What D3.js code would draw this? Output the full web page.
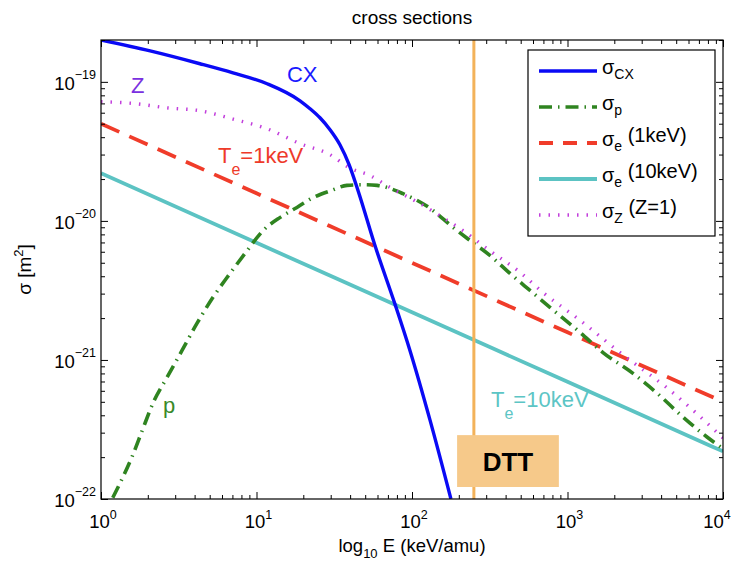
<!DOCTYPE html>
<html><head><meta charset="utf-8">
<script src="https://cdn.jsdelivr.net/npm/d3@7"></script>
<style>
body{margin:0;background:#fff}
svg{display:block;font-family:"Liberation Sans",Arial,Helvetica,sans-serif}
</style>
</head><body>
<svg id="chart" width="735" height="565"></svg>
<script>
// ---- data ----
const titleText = "cross sections";
const xTickValues = [1, 10, 100, 1000, 10000];
const xTickExp = ["0", "1", "2", "3", "4"];
const yTickValues = [1e-22, 1e-21, 1e-20, 1e-19];
const yTickExp = ["\u221222", "\u221221", "\u221220", "\u221219"];

const cxE = [1, 2.07, 4.33, 7.06, 11.7, 19.05, 22.1, 25.6, 29.7, 34.4, 39.4, 45.0, 57.8, 77.8, 97, 130.6, 178];
const cxS = [2.0e-19, 1.67e-19, 1.35e-19, 1.16e-19, 9.7e-20, 7.31e-20, 6.41e-20, 5.52e-20, 4.53e-20, 3.53e-20, 2.54e-20, 1.65e-20, 6.65e-21, 2.51e-21, 1.17e-21, 3.69e-22, 1.0e-22];

const pE = [1.19, 1.325, 1.58, 1.84, 2.16, 2.66, 3.32, 4.14, 5.25, 6.76, 8.69, 11.0, 14.2, 18.2, 23.1, 30, 38.2, 47.5, 59.6, 87.5, 131, 184, 226, 317, 427, 574, 771, 1203, 1691, 2637, 3765, 5530, 7890, 10000];
const pS = [1.02e-22, 1.30e-22, 2.0e-22, 3.1e-22, 4.9e-22, 7.5e-22, 1.17e-21, 1.83e-21, 2.82e-21, 4.19e-21, 6.1e-21, 8.5e-21, 1.06e-20, 1.25e-20, 1.47e-20, 1.65e-20, 1.8e-20, 1.82e-20, 1.8e-20, 1.57e-20, 1.23e-20, 8.97e-21, 7.5e-21, 5.65e-21, 4.19e-21, 3.16e-21, 2.39e-21, 1.58e-21, 1.13e-21, 8.0e-22, 5.77e-22, 3.88e-22, 2.79e-22, 2.3e-22];

const e1E = [1, 10, 100, 1000, 10000];
const e1S = [5.0e-20, 1.58e-20, 5.0e-21, 1.58e-21, 5.0e-22];

const e10E = [1, 10, 100, 1000, 10000];
const e10S = [2.2e-20, 6.96e-21, 2.2e-21, 6.96e-22, 2.2e-22];

const zE = [1, 1.61, 2.66, 4.33, 7.06, 11.7, 19, 29.6, 39.9, 53.7, 72.2, 113, 151, 204, 317, 495, 695, 1203, 2177, 4560, 10000];
const zS = [7.2e-20, 7.0e-20, 6.5e-20, 6.2e-20, 5.4e-20, 4.6e-20, 3.6e-20, 3.0e-20, 2.4e-20, 2.12e-20, 1.74e-20, 1.33e-20, 1.09e-20, 8.8e-21, 6.1e-21, 4.27e-21, 3.06e-21, 1.93e-21, 1.13e-21, 6.05e-22, 2.75e-22];

const dttE = 250;
const dttBoxE = [195, 880];
const dttBoxS = [1.22e-22, 2.88e-22];

// ---- layout ----
const svg = d3.select("#chart");
const m = {left: 101, top: 40};
const pw = 622, ph = 459;
const g = svg.append("g").attr("transform", `translate(${m.left},${m.top})`);

const x = d3.scaleLog().domain([1, 1e4]).range([0, pw]);
const y = d3.scaleLog().domain([1e-22, 2e-19]).range([ph, 0]);

const col = {
  CX: "#0a0af5", p: "#2f8420", e1: "#f03c2a", e10: "#5cc3c3", Z: "#c23fdc",
  orange: "#f3b25a", box: "#f6c98a"
};

svg.append("defs").append("clipPath").attr("id", "clip")
  .append("rect").attr("width", pw).attr("height", ph);

const lineGen = d3.line().x(d => x(d[0])).y(d => y(d[1])).curve(d3.curveMonotoneX);
const zip = (a, b) => a.map((v, i) => [v, b[i]]);

const curves = g.append("g").attr("clip-path", "url(#clip)");
const styles = [
  {key: "e10", data: zip(e10E, e10S), w: 3.8, dash: null},
  {key: "e1", data: zip(e1E, e1S), w: 3.8, dash: "20,11"},
  {key: "p", data: zip(pE, pS), w: 3.6, dash: "13,6,1.5,6"},
  {key: "Z", data: zip(zE, zS), w: 3.4, dash: "1.5,8"},
  {key: "CX", data: zip(cxE, cxS), w: 3.4, dash: null}
];
styles.forEach(s => {
  curves.append("path").datum(s.data)
    .attr("d", lineGen).attr("fill", "none")
    .attr("stroke", col[s.key]).attr("stroke-width", s.w)
    .attr("stroke-dasharray", s.dash);
});

// DTT marker
g.append("line").attr("x1", x(dttE)).attr("x2", x(dttE)).attr("y1", 0).attr("y2", ph)
  .attr("stroke", col.orange).attr("stroke-width", 3);
g.append("rect").attr("x", x(dttBoxE[0])).attr("y", y(dttBoxS[1]))
  .attr("width", x(dttBoxE[1]) - x(dttBoxE[0])).attr("height", y(dttBoxS[0]) - y(dttBoxS[1]))
  .attr("fill", col.box);
g.append("text").attr("x", (x(dttBoxE[0]) + x(dttBoxE[1])) / 2)
  .attr("y", (y(dttBoxS[0]) + y(dttBoxS[1])) / 2 + 10)
  .attr("text-anchor", "middle").attr("font-size", 26).attr("font-weight", "bold")
  .attr("fill", "#000").text("DTT");

// curve annotations (positions in data coordinates)
const notes = [
  {t: "CX", E: 15.7, S: 9.9e-20, c: "#1a1aff"},
  {t: "Z", E: 1.56, S: 8.36e-20, c: "#7a30e0"},
  {t: "p", E: 2.5, S: 4.14e-22, c: "#3a8a2a"},
  {t: "T|e|=1keV", E: 5.65, S: 2.62e-20, c: "#ee3a2a"},
  {t: "T|e|=10keV", E: 322, S: 4.57e-22, c: "#5cc5c5"}
];
notes.forEach(n => {
  const t = g.append("text").attr("x", x(n.E)).attr("y", y(n.S))
    .attr("font-size", 22).attr("fill", n.c);
  const parts = n.t.split("|");
  if (parts.length === 1) { t.text(n.t); return; }
  t.append("tspan").text(parts[0]);
  t.append("tspan").attr("dy", 12).attr("font-size", 16).text(parts[1]);
  t.append("tspan").attr("dy", -12).text(parts[2]);
});

// axes with inward ticks on all four sides
const isDecade = v => Math.abs(Math.log10(v) - Math.round(Math.log10(v))) < 1e-6;
const xMinor = x.ticks().filter(v => !isDecade(v));
const yMinor = y.ticks().filter(v => !isDecade(v));
const ax = (gen, vals, size, tr) => {
  const a = g.append("g").attr("transform", tr)
    .call(gen.tickValues(vals).tickSize(size).tickFormat(""));
  a.select(".domain").remove();
  a.selectAll("line").attr("stroke", "#000").attr("stroke-width", 1);
};
ax(d3.axisBottom(x), xTickValues, -7, `translate(0,${ph})`);
ax(d3.axisBottom(x), xMinor, -4, `translate(0,${ph})`);
ax(d3.axisTop(x), xTickValues, -7, `translate(0,0)`);
ax(d3.axisTop(x), xMinor, -4, `translate(0,0)`);
ax(d3.axisLeft(y), yTickValues, -7, `translate(0,0)`);
ax(d3.axisLeft(y), yMinor, -4, `translate(0,0)`);
ax(d3.axisRight(y), yTickValues, -7, `translate(${pw},0)`);
ax(d3.axisRight(y), yMinor, -4, `translate(${pw},0)`);

g.append("rect").attr("width", pw).attr("height", ph)
  .attr("fill", "none").attr("stroke", "#000").attr("stroke-width", 1.2);

// tick labels
xTickValues.forEach((v, i) => {
  const last = i === xTickValues.length - 1;
  const t = g.append("text").attr("x", last ? x(v) - 6 : x(v) + 2).attr("y", ph + 29)
    .attr("text-anchor", "middle").attr("font-size", 18.5).attr("fill", "#000");
  t.append("tspan").text("10");
  t.append("tspan").attr("dy", -9).attr("font-size", 12.5).text(xTickExp[i]);
});
yTickValues.forEach((v, i) => {
  const t = g.append("text").attr("x", -5).attr("y", y(v) + 8)
    .attr("text-anchor", "end").attr("font-size", 18.5).attr("fill", "#000");
  t.append("tspan").text("10");
  t.append("tspan").attr("dy", -11).attr("font-size", 12.5).text(yTickExp[i]);
});

// axis titles
const xl = g.append("text").attr("x", pw / 2).attr("y", ph + 53)
  .attr("text-anchor", "middle").attr("font-size", 18.5).attr("fill", "#000");
xl.append("tspan").text("log");
xl.append("tspan").attr("dy", 6).attr("font-size", 13).text("10");
xl.append("tspan").attr("dy", -6).text(" E (keV/amu)");

const yl = g.append("text").attr("transform", `translate(-70,${ph / 2}) rotate(-90)`)
  .attr("text-anchor", "middle").attr("font-size", 19).attr("fill", "#000");
yl.append("tspan").text("\u03c3 [m");
yl.append("tspan").attr("dy", -8).attr("font-size", 13).text("2");
yl.append("tspan").attr("dy", 8).text("]");

svg.append("text").attr("x", m.left + pw / 2).attr("y", 24)
  .attr("text-anchor", "middle").attr("font-size", 19).attr("fill", "#000").text(titleText);

// legend
const leg = svg.append("g").attr("transform", "translate(528,50)");
leg.append("rect").attr("width", 187).attr("height", 186)
  .attr("fill", "#fff").attr("stroke", "#000").attr("stroke-width", 1.2);
const legItems = [
  {key: "CX", sub: "CX", rest: "", w: 3.4, dash: null},
  {key: "p", sub: "p", rest: "", w: 3.6, dash: "13,6,1.5,6"},
  {key: "e1", sub: "e", rest: " (1keV)", w: 3.8, dash: "14,10"},
  {key: "e10", sub: "e", rest: " (10keV)", w: 3.8, dash: null},
  {key: "Z", sub: "Z", rest: " (Z=1)", w: 3.4, dash: "1.5,8"}
];
legItems.forEach((it, i) => {
  const ly = 21 + i * 36;
  leg.append("line").attr("x1", 11).attr("x2", 69).attr("y1", ly).attr("y2", ly)
    .attr("stroke", col[it.key]).attr("stroke-width", it.w).attr("stroke-dasharray", it.dash);
  const t = leg.append("text").attr("x", 74).attr("y", ly - 1).attr("font-size", 20).attr("fill", "#000");
  t.append("tspan").attr("dy", 4).text("\u03c3");
  t.append("tspan").attr("dy", 5).attr("font-size", 14).text(it.sub);
  if (it.rest) t.append("tspan").attr("dy", -9).text(it.rest);
});
</script>
</body></html>
